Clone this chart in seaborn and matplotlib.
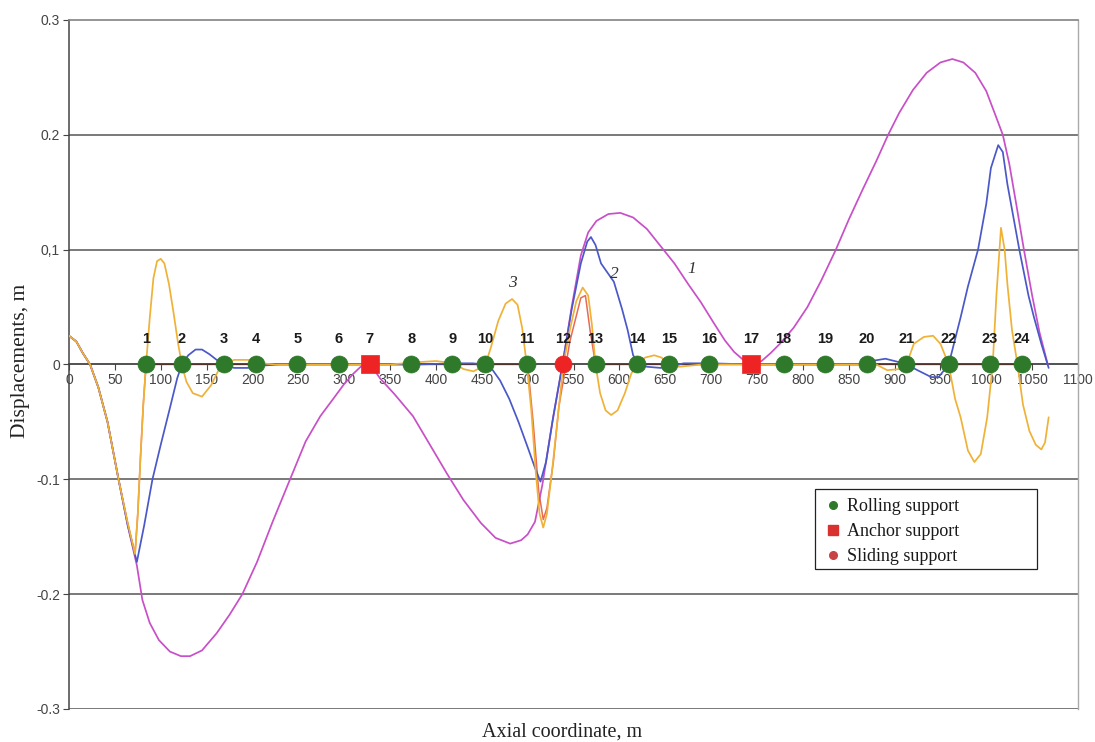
import matplotlib
matplotlib.use("Agg")
import matplotlib.pyplot as plt
from matplotlib.lines import Line2D
from matplotlib.patches import Rectangle
from matplotlib import font_manager
import seaborn as sns
import pandas as pd

# ---------------- data ----------------
x_curve1 = [0, 8, 15, 23, 32, 42, 54, 64, 74, 80, 88, 98, 110, 122, 132, 145, 161, 175, 189, 205, 222, 241,
            258, 274, 288, 300, 310, 318, 326, 333, 339, 355, 375, 395, 412, 430, 449, 465, 481, 493, 500, 508,
            516, 527, 538, 548, 558, 566, 575, 588, 601, 615, 630, 648, 660, 675, 689, 703, 715, 725, 735, 745,
            755, 765, 775, 790, 805, 820, 836, 850, 865, 880, 893, 905, 920, 935, 950, 963, 975, 988, 1000,
            1010, 1018, 1025, 1033, 1041, 1050, 1058, 1067]
y_curve1 = [0.025, 0.02, 0.01, 0.0, -0.02, -0.05, -0.1, -0.14, -0.175, -0.205, -0.225, -0.24, -0.25, -0.254,
            -0.254, -0.249, -0.234, -0.218, -0.2, -0.172, -0.137, -0.1, -0.067, -0.045, -0.03, -0.017, -0.008,
            -0.002, 0.0, -0.005, -0.012, -0.026, -0.045, -0.072, -0.095, -0.118, -0.138, -0.151, -0.156, -0.153,
            -0.148, -0.137, -0.105, -0.05, 0.0, 0.05, 0.095, 0.115, 0.125, 0.131, 0.132, 0.128, 0.118, 0.1,
            0.088, 0.07, 0.054, 0.036, 0.021, 0.011, 0.004, 0.0, 0.003, 0.01, 0.018, 0.032, 0.05, 0.073, 0.1,
            0.126, 0.152, 0.177, 0.2, 0.219, 0.239, 0.254, 0.263, 0.266, 0.263, 0.254, 0.238, 0.217, 0.2, 0.175,
            0.138, 0.1, 0.06, 0.028, 0.0]

x_curve2 = [0, 8, 15, 23, 32, 42, 54, 64, 74, 82, 91, 100, 110, 118, 123, 130, 138, 145, 153, 161, 169, 180,
            195, 210, 230, 300, 350, 380, 420, 440, 454, 462, 470, 480, 490, 500, 508, 514, 520, 528, 538, 548,
            558, 565, 569, 574, 580, 594, 603, 609, 615, 622, 630, 645, 655, 670, 700, 745, 800, 860, 875, 890,
            905, 913, 925, 940, 948, 959, 972, 980, 991, 1000, 1005, 1013, 1018, 1023, 1036, 1046, 1052, 1060,
            1068]
y_curve2 = [0.025, 0.02, 0.01, 0.0, -0.02, -0.05, -0.1, -0.14, -0.172, -0.14, -0.1, -0.07, -0.038, -0.012,
            0.0, 0.008, 0.013, 0.013, 0.009, 0.004, 0.0, -0.003, -0.003, -0.001, 0.0, 0.0, 0.0, 0.0, 0.001,
            0.001, 0.0, -0.005, -0.014, -0.03, -0.05, -0.072, -0.09, -0.102, -0.085, -0.045, 0.0, 0.048, 0.088,
            0.107, 0.111, 0.104, 0.088, 0.072, 0.048, 0.03, 0.008, 0.0, -0.002, -0.003, -0.002, 0.001, 0.001,
            0.0, 0.0, 0.0, 0.003, 0.005, 0.002, 0.0, -0.005, -0.011, -0.011, 0.0, 0.041, 0.068, 0.1, 0.14,
            0.171, 0.191, 0.185, 0.157, 0.1, 0.06, 0.041, 0.018, -0.003]

x_curve3 = [0, 8, 15, 23, 32, 42, 54, 64, 72, 75, 78, 81, 84, 88, 92, 96, 100, 104, 109, 114, 119, 123, 128,
            135, 145, 155, 163, 169, 180, 195, 210, 225, 300, 350, 380, 400, 420, 430, 441, 448, 454, 460, 468,
            476, 483, 489, 494, 499, 504, 509, 513, 517, 521, 527, 533, 539, 546, 553, 560, 566, 570, 574, 579,
            585, 591, 598, 606, 613, 619, 628, 638, 646, 654, 665, 690, 880, 892, 905, 913, 921, 932, 942, 950,
            959, 966, 972, 980, 987, 994, 1001, 1007, 1011, 1016, 1020, 1023, 1028, 1034, 1040, 1047, 1054,
            1060, 1064, 1068]
y_curve3 = [0.025, 0.02, 0.01, 0.0, -0.02, -0.05, -0.1, -0.138, -0.165, -0.13, -0.08, -0.035, 0.0, 0.04,
            0.075, 0.09, 0.092, 0.088, 0.07, 0.045, 0.018, 0.0, -0.015, -0.025, -0.028, -0.018, -0.005, 0.0,
            0.004, 0.004, 0.001, 0.0, 0.0, 0.0, 0.002, 0.003, 0.001, -0.004, -0.006, -0.003, 0.0, 0.015, 0.038,
            0.053, 0.057, 0.052, 0.032, 0.0, -0.04, -0.095, -0.13, -0.142, -0.13, -0.09, -0.045, 0.0, 0.03,
            0.055, 0.067, 0.06, 0.035, 0.0, -0.025, -0.04, -0.044, -0.04, -0.025, -0.008, 0.0, 0.006, 0.008,
            0.006, 0.0, -0.002, 0.0, 0.0, -0.005, -0.004, 0.0, 0.018, 0.024, 0.025, 0.018, 0.0, -0.03, -0.046,
            -0.075, -0.085, -0.078, -0.046, 0.0, 0.06, 0.119, 0.1, 0.07, 0.03, 0.0, -0.035, -0.058, -0.07,
            -0.074, -0.068, -0.046]

x_curve4 = [0, 8, 15, 23, 32, 42, 54, 64, 72, 75, 78, 81, 84, 300, 500, 506, 512, 517, 521, 528, 534, 546,
            558, 563, 568, 574, 1050]
y_curve4 = [0.025, 0.02, 0.01, 0.0, -0.02, -0.05, -0.1, -0.138, -0.165, -0.13, -0.08, -0.035, 0.0, 0.0, 0.0,
            -0.05, -0.11, -0.135, -0.125, -0.085, -0.037, 0.02, 0.058, 0.06, 0.03, 0.0, 0.0]

support_x = [84, 123, 169, 204, 249, 294, 328, 373, 418, 454, 499, 539, 574, 619, 654, 698, 744, 779, 824,
             870, 913, 959, 1004, 1039]
support_type = ["Rolling", "Rolling", "Rolling", "Rolling", "Rolling", "Rolling", "Anchor", "Rolling",
                "Rolling", "Rolling", "Rolling", "Sliding", "Rolling", "Rolling", "Rolling", "Rolling",
                "Anchor", "Rolling", "Rolling", "Rolling", "Rolling", "Rolling", "Rolling", "Rolling"]
support_labels = [str(i) for i in range(1, 25)]

x_ticks = list(range(0, 1101, 50))
y_ticks = [-0.3, -0.2, -0.1, 0.0, 0.1, 0.2, 0.3]
y_tick_labels = ["-0.3", "-0.2", "-0.1", "0", "0,1", "0.2", "0.3"]

curve_names = ["1", "2", "3"]
curve_label_x = [679, 594, 483]
curve_label_y = [0.083, 0.079, 0.071]

legend_labels = ["Rolling support", "Anchor support", "Sliding support"]

# ---------------- styling ----------------
sns.set_theme(style="white")
avail = {f.name for f in font_manager.fontManager.ttflist}
serif = "Liberation Serif" if "Liberation Serif" in avail else "DejaVu Serif"
sans = "Liberation Sans" if "Liberation Sans" in avail else "DejaVu Sans"
narrow = "Liberation Sans Narrow" if "Liberation Sans Narrow" in avail else sans
plt.rcParams["font.family"] = [sans, "DejaVu Sans"]

C_MAG = "#C84FC8"
C_BLUE = "#4A58C8"
C_ORANGE = "#F0B236"
C_RED = "#E86A55"
C_GREEN = "#2E7A2A"

fig = plt.figure(figsize=(10.95, 7.42), dpi=100)
ax = fig.add_axes([0.063, 0.0445, 0.9215, 0.9286])

frames = []
for name, xs, ys in [("4", x_curve4, y_curve4), ("1", x_curve1, y_curve1),
                     ("2", x_curve2, y_curve2), ("3", x_curve3, y_curve3)]:
    frames.append(pd.DataFrame({"x": xs, "y": ys, "curve": name}))
df = pd.concat(frames, ignore_index=True)

palette = {"1": C_MAG, "2": C_BLUE, "3": C_ORANGE, "4": C_RED}
for name, z, lw in [("4", 1.5, 1.1), ("1", 4, 1.25), ("2", 5, 1.25), ("3", 6, 1.25)]:
    sub = df[df["curve"] == name]
    sns.lineplot(data=sub, x="x", y="y", color=palette[name], lw=lw, ax=ax,
                 estimator=None, sort=False, legend=False, zorder=z)

# supports
sup = pd.DataFrame({"x": support_x, "y": [0.0] * len(support_x), "type": support_type})
style_map = {"Rolling": ("o", C_GREEN, 150), "Anchor": ("s", "#EE2424", 170), "Sliding": ("o", "#EE2424", 150)}
for t, (m, c, s) in style_map.items():
    sub = sup[sup["type"] == t]
    sns.scatterplot(data=sub, x="x", y="y", marker=m, color=c, s=s, edgecolor=c, linewidth=0.5,
                    ax=ax, zorder=8, legend=False)

for xv, lab in zip(support_x, support_labels):
    ax.text(xv, 0.0225, lab, ha="center", va="center", fontsize=10.5, fontweight="bold",
            family=narrow, color="#1a1a1a", zorder=9)

for nm, lx, ly in zip(curve_names, curve_label_x, curve_label_y):
    ax.text(lx, ly, nm, ha="center", va="center", fontsize=12.5, style="italic",
            family=serif, color="#333333", zorder=9)

# axes
ax.set_xlim(0, 1100)
ax.set_ylim(-0.3, 0.3)
ax.set_xticks(x_ticks)
ax.set_xticklabels([str(v) for v in x_ticks])
ax.set_yticks(y_ticks)
ax.set_yticklabels(y_tick_labels)
ax.spines["bottom"].set_position(("data", 0))
ax.spines["bottom"].set_color("#222222")
ax.spines["bottom"].set_linewidth(1.1)
ax.spines["bottom"].set_zorder(2)
ax.spines["left"].set_color("#444444")
ax.spines["left"].set_linewidth(1.1)
ax.spines["top"].set_color("#888888")
ax.spines["right"].set_color("#aaaaaa")
ax.spines["right"].set_linewidth(1.0)
ax.tick_params(axis="x", direction="out", length=4, width=0.8, color="#444444", labelsize=10,
               labelcolor="#444444", pad=2.5, bottom=True)
ax.tick_params(axis="y", direction="out", length=4, width=0.8, color="#444444", labelsize=10,
               labelcolor="#444444", left=True, pad=2.5)
for yv in [-0.3, -0.2, -0.1, 0.1, 0.2]:
    ax.axhline(yv, color="#555555", lw=1.1, zorder=1)
ax.set_xlabel("")
ax.set_ylabel("")
fig.text(0.513, 0.0135, "Axial coordinate, m", ha="center", va="center", fontsize=14.5, family=serif,
         color="#222222")
fig.text(0.0185, 0.514, "Displacements, m", ha="center", va="center", fontsize=15.5, family=serif,
         rotation=90, color="#222222")

# legend (manual frame to match the wide box of the reference)
ax.add_patch(Rectangle((0.7394, 0.2032), 0.2200, 0.1161, transform=ax.transAxes, facecolor="white",
                       edgecolor="#222222", lw=0.9, zorder=10))
handles = [
    Line2D([], [], marker="o", ls="", color=C_GREEN, markersize=5.5, label=legend_labels[0]),
    Line2D([], [], marker="s", ls="", color="#D93030", markersize=6.5, label=legend_labels[1]),
    Line2D([], [], marker="o", ls="", color="#C84444", markersize=5.5, label=legend_labels[2]),
]
leg = ax.legend(handles=handles, loc="upper left", bbox_to_anchor=(0.746, 0.3113), frameon=False,
                prop={"family": serif, "size": 13}, handletextpad=0.3, handlelength=0.9,
                borderpad=0.2, labelspacing=0.45, borderaxespad=0)
leg.set_zorder(11)
for txt in leg.get_texts():
    txt.set_color("#1a1a1a")

fig.savefig("out.png", dpi=100)
